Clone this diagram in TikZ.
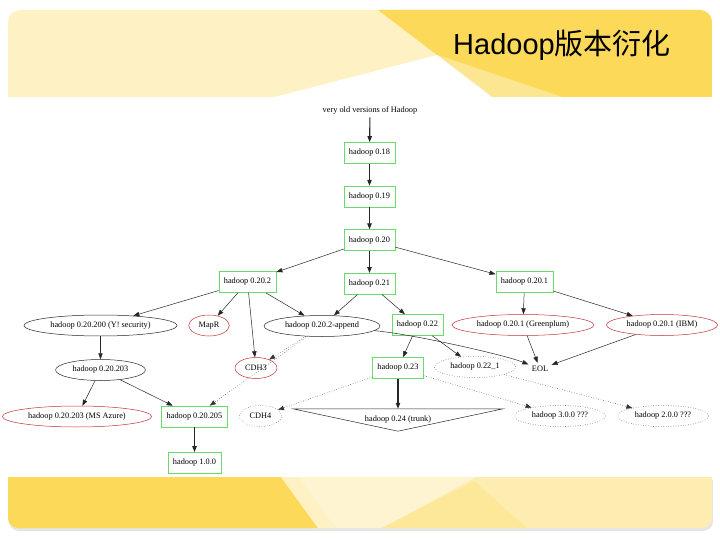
\documentclass[tikz,border=0pt]{standalone}
\usepackage{fontspec}
\setmainfont{Liberation Serif}
\newfontfamily\titlefont{Liberation Sans}
\newfontfamily\cjk{Noto Sans CJK SC}
\usepackage{tikz}
\usetikzlibrary{positioning,arrows.meta,shapes.geometric,calc}

\definecolor{boxgreen}{RGB}{104,220,104}
\definecolor{distred}{RGB}{196,48,56}
\definecolor{bannerpale}{RGB}{254,242,196}
\definecolor{bannermid}{RGB}{253,230,145}
\definecolor{bannergold}{RGB}{253,217,90}
\definecolor{bannercream}{RGB}{255,244,210}
\definecolor{bannerstraw}{RGB}{254,237,176}

\begin{document}
\begin{tikzpicture}[
  x=1pt, y=-1pt,
  font=\fontsize{8.3}{10}\selectfont,
  node distance=22pt,
  rel/.style={
    rectangle, draw=boxgreen, line width=0.6pt,
    minimum height=21pt, inner xsep=5pt, inner ysep=0pt
  },
  fork/.style={
    ellipse, draw=black!85, line width=0.5pt,
    minimum height=21pt, inner xsep=4pt, inner ysep=0pt
  },
  vendor/.style={fork, draw=distred},
  future/.style={fork, draw=black!75, dotted},
  trunkbox/.style={rectangle, minimum width=210pt, minimum height=22pt, inner sep=0pt},
  arr/.style={-{Triangle[length=6pt,width=4.4pt]}, line width=0.5pt, black!85},
  main/.style={arr, line width=1.1pt},
  guess/.style={arr, dotted, black!80}
]
\useasboundingbox (0,0) rectangle (720,540);

% --- Top banner ---
\begin{scope}
  \clip (8,97) [rounded corners=12pt] -- (8,10) -- (712,10) [sharp corners] -- (712,97) -- cycle;
  \fill[bannerpale] (0,0) rectangle (720,100);
  \fill[bannergold] (378,10) -- (712,10) -- (712,97) -- (562,97) -- (437,55) -- cycle;
  \fill[bannermid] (437,55) -- (562,97) -- (492,97) -- cycle;
  \fill[white] (437,55) -- (492,97) -- (275,97) -- cycle;
\end{scope}
\node[font=\titlefont\fontsize{29}{32}\selectfont, anchor=base west, inner sep=0pt]
  (title) at (453,55) {Hadoop{\cjk 版本衍化}};

% --- Bottom banner ---
\fill[black!10] (9,480) -- (713,480) [rounded corners=10pt] -- (713,531) -- (9,531) [sharp corners] -- cycle;
\begin{scope}
  \clip (8,477) -- (712,477) [rounded corners=10pt] -- (712,528) -- (8,528) [sharp corners] -- cycle;
  \fill[bannerstraw] (0,470) rectangle (720,540);
  \fill[bannergold] (0,477) -- (281,477) -- (318,528) -- (0,528) -- cycle;
  \fill[bannerpale] (281,477) -- (298,477) -- (336,528) -- (318,528) -- cycle;
  \fill[bannercream] (298,477) -- (476,477) -- (382,528) -- (336,528) -- cycle;
  \fill[bannermid!70!bannerstraw] (474,481) -- (527,528) -- (382,528) -- cycle;
\end{scope}

% --- Release line ---
\node (old) at (370,110) {very old versions of Hadoop};
\node[rel] (v018) at (369.5,153) {hadoop 0.18};
\node[rel, below=of v018] (v019) {hadoop 0.19};
\node[rel, below=of v019] (v020) {hadoop 0.20};
\node[rel, below=of v020] (v021) {hadoop 0.21};
\node[rel] (v0202) at (247.5,282) {hadoop 0.20.2};
\node[rel] (v0201) at (524.5,282) {hadoop 0.20.1};

% --- Branches and distributions ---
\node[fork]   (ysec)   at (100.5,325.5) {hadoop 0.20.200 (Y! security)};
\node[vendor] (mapr)   at (209,325.5)   {MapR};
\node[fork]   (append) at (322,326)     {hadoop 0.20.2-append};
\node[rel]    (v022)   at (417.5,325)   {hadoop 0.22};
\node[vendor] (green)  at (523,325)     {hadoop 0.20.1 (Greenplum)};
\node[vendor] (ibm)    at (662,325)     {hadoop 0.20.1 (IBM)};

\node[fork]   (v0203)  at (100.5,370)   {hadoop 0.20.203};
\node[vendor] (cdh3)   at (256,368)     {CDH3};
\node[rel]    (v023)   at (398,368)     {hadoop 0.23};
\node[future] (v0221)  at (475,367)     {hadoop 0.22\_1};
\node         (eol)    at (540,369)     {EOL};

\node[vendor] (azure)  at (77,416.5)    {hadoop 0.20.203 (MS Azure)};
\node[rel]    (v0205)  at (194.5,416.5) {hadoop 0.20.205};
\node[future, draw=distred] (cdh4) at (260.5,416) {CDH4};
\node[trunkbox] (trunk) at (398,420)    {hadoop 0.24 (trunk)};
\draw[line width=0.5pt, black!85] (trunk.north west) -- (trunk.north east) -- (trunk.south) -- cycle;
\node[future] (v300)   at (560,416)     {hadoop 3.0.0 ???};
\node[future] (v200)   at (663,416)     {hadoop 2.0.0 ???};
\node[rel]    (v100)   at (194.5,463)   {hadoop 1.0.0};

% --- Connections ---
\draw[main] (old) -- (v018);
\draw[main] (v018) -- (v019);
\draw[main] (v019) -- (v020);
\draw[main] (v020) -- (v021);
\draw[arr] (v020) -- (v0202);
\draw[arr] (v020) -- (v0201);

\draw[arr] (v0202) -- (ysec);
\draw[arr] (v0202) -- (mapr);
\draw[arr] (v0202) -- (cdh3);
\draw[arr] (v0202) -- (append);
\draw[arr] (v021) -- (append);
\draw[arr] (v021) -- (v022);
\draw[arr] (v0201) -- (green);
\draw[arr] (v0201) -- (ibm);

\draw[arr] (ysec) -- (v0203);
\draw[arr] (v0203) -- (azure);
\draw[arr] (v0203) -- (v0205);
\draw[guess] (append) -- (cdh3);
\draw[guess] (append) -- (v0205);
\draw[arr] (append) .. controls +(90,8) and +(-35,-14) .. (eol);
\draw[arr] (v022) -- (v023);
\draw[arr] (v022) -- (v0221);
\draw[arr] (green) -- (eol);
\draw[arr] (ibm) -- (eol);

\draw[main] (v023) -- (trunk);
\draw[guess] (v023) -- (cdh4);
\draw[guess] (v023) -- (v300);
\draw[guess] (v0221) -- (v200);
\draw[main] (v0205) -- (v100);

\end{tikzpicture}
\end{document}
